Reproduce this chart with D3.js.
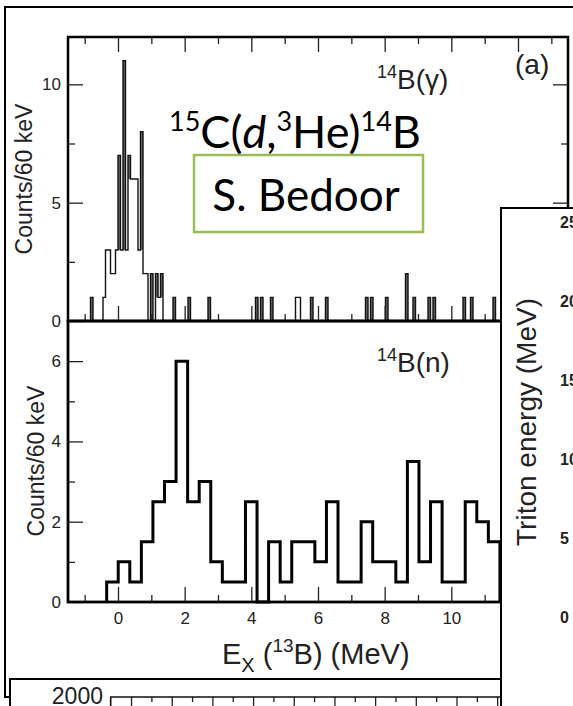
<!DOCTYPE html>
<html>
<head>
<meta charset="utf-8">
<script src="https://cdn.jsdelivr.net/npm/d3@7"></script>
<style>
  body { margin: 0; background: #fff; }
  svg { display: block; }
  .plot text { font-family: "Liberation Sans", Arial, sans-serif; fill: #222; }
  .slide text { font-family: Lato, "Open Sans", sans-serif; fill: #000; }
</style>
</head>
<body>
<svg id="fig" width="573" height="706"></svg>
<script>
// 14B(gamma) gated spectrum: left edge of each bin (MeV) and its counts
const GAMMA_BIN = 0.075;
const GAMMA_E = [-0.825, -0.45, -0.375, -0.3, -0.225, -0.15, -0.075, 0, 0.075, 0.15, 0.225, 0.3,
                 0.375, 0.45, 0.525, 0.6, 0.675, 0.75, 0.825, 0.9, 0.975, 1.05, 1.125, 1.2, 1.275,
                 1.65, 2.1, 2.7, 4.125, 4.2, 4.275, 4.575, 5.325, 5.4, 5.775, 6.225, 7.425, 7.5,
                 7.575, 8.025, 8.625, 8.85, 9.3, 9.375, 9.45, 10.35, 10.575, 11.25];
const GAMMA_COUNTS = [1, 1, 3, 3, 2, 2, 3, 7, 3, 11, 3, 7,
                      6, 6, 6, 3, 8, 2, 2, 0, 2, 0, 2, 1, 2,
                      1, 1, 1, 1, 0, 1, 1, 1, 1, 1, 1, 1, 0,
                      1, 1, 2, 1, 1, 0, 1, 1, 1, 1];

// 14B(n) gated spectrum
const N_START = -0.34;
const N_BIN = 0.347;
const N_COUNTS = [0.5, 1, 0.5, 1.5, 2.5, 3, 6, 2.5, 3, 1, 0.5, 0.5, 2.5, 0, 1.5, 0.5, 1.5,
                  1.5, 1, 2.5, 0.5, 0.5, 2, 1, 1, 0.5, 3.5, 1, 2.5, 0.5, 0.5, 2.5, 2, 1.5];

// tick values
const X_MAJOR = [0, 2, 4, 6, 8, 10, 12];
const X_MINOR = [-1, 1, 3, 5, 7, 9, 11, 13];
const G_MAJOR = [0, 5, 10];
const G_MINOR = [2.5, 7.5];
const N_MAJOR = [0, 2, 4, 6];
const N_MINOR = [1, 3, 5];
const TRITON_TICKS = [0, 5, 10, 15, 20, 25];
const LOWER_Y_TICKS = [2000];
const LOWER_X_TICKS = d3.range(1, 20);

const FONT = "'Liberation Sans', Arial, sans-serif";
const fmt = d3.format("d");
const svg = d3.select("#fig");

// frame of the slide behind everything
svg.append("rect")
    .attr("x", 5).attr("y", 7).attr("width", 640).attr("height", 690)
    .attr("fill", "none").attr("stroke", "#000").attr("stroke-width", 2);

const plot = svg.append("g").attr("class", "plot");

const X = d3.scaleLinear().domain([-1.5, 13.5]).range([68, 568]);
const YG = d3.scaleLinear().domain([0, 12]).range([321, 37]);
const YN = d3.scaleLinear().domain([0, 7]).range([602, 321]);

// group bins into contiguous runs
function toRuns(edges, counts, w) {
    const runs = [];
    let cur = null, end = null;
    edges.forEach((e, i) => {
        if (cur === null || Math.abs(e - end) > 1e-3) {
            if (cur !== null) runs.push(cur);
            cur = [];
        }
        cur.push({e: e, c: counts[i]});
        end = e + w;
    });
    if (cur !== null) runs.push(cur);
    return runs;
}

// step outline points of one run
function stepPoints(run, w) {
    const pts = [[run[0].e, 0]];
    run.forEach(b => { pts.push([b.e, b.c]); pts.push([b.e + w, b.c]); });
    pts.push([run[run.length - 1].e + w, 0]);
    return pts;
}

const lineG = d3.line().x(d => X(d[0])).y(d => YG(d[1]));
const lineN = d3.line().x(d => X(d[0])).y(d => YN(d[1]));

const gRuns = toRuns(GAMMA_E, GAMMA_COUNTS, GAMMA_BIN);

// narrow spikes look shaded in the original print
const spikes = [];
gRuns.forEach(run => run.forEach((b, i) => {
    const l = i > 0 ? run[i - 1].c : 0;
    const r = i < run.length - 1 ? run[i + 1].c : 0;
    if (b.c > l && b.c > r) spikes.push({e: b.e, lo: Math.max(l, r), hi: b.c});
}));
plot.selectAll(".spike").data(spikes).enter().append("rect")
    .attr("x", d => X(d.e)).attr("width", X(GAMMA_BIN) - X(0))
    .attr("y", d => YG(d.hi)).attr("height", d => YG(d.lo) - YG(d.hi))
    .attr("fill", "#6a6a6a");

plot.selectAll(".gstep")
    .data(gRuns.map(r => stepPoints(r, GAMMA_BIN)))
    .enter().append("path")
    .attr("d", lineG)
    .attr("fill", "none").attr("stroke", "#111").attr("stroke-width", 1.4);

const nEdges = N_COUNTS.map((c, i) => N_START + i * N_BIN);
plot.selectAll(".nstep")
    .data(toRuns(nEdges, N_COUNTS, N_BIN).map(r => stepPoints(r, N_BIN)))
    .enter().append("path")
    .attr("d", lineN)
    .attr("fill", "none").attr("stroke", "#000").attr("stroke-width", 3)
    .attr("stroke-linejoin", "miter");

function ticks(g) { g.select(".domain").remove(); g.selectAll("line").attr("stroke", "#222").attr("stroke-width", 1.3); }

// inward ticks
function xTicks(y, dir) {
    const ax = dir === "up" ? d3.axisTop : d3.axisBottom;
    plot.append("g").attr("transform", "translate(0," + y + ")")
        .call(ax(X).tickValues(X_MAJOR).tickSize(15).tickFormat("")).call(ticks);
    plot.append("g").attr("transform", "translate(0," + y + ")")
        .call(ax(X).tickValues(X_MINOR).tickSize(7).tickFormat("")).call(ticks);
}
xTicks(321, "up");
xTicks(37, "down");
xTicks(602, "up");

function yTicks(scale, x, major, minor, dir) {
    const ax = dir === "right" ? d3.axisRight : d3.axisLeft;
    plot.append("g").attr("transform", "translate(" + x + ",0)")
        .call(ax(scale).tickValues(major).tickSize(15).tickFormat("")).call(ticks);
    plot.append("g").attr("transform", "translate(" + x + ",0)")
        .call(ax(scale).tickValues(minor).tickSize(7).tickFormat("")).call(ticks);
}
yTicks(YG, 68, G_MAJOR, G_MINOR, "right");
yTicks(YG, 568, G_MAJOR, G_MINOR, "left");
yTicks(YN, 68, N_MAJOR, N_MINOR, "right");

// tick labels
function labels(g) {
    g.select(".domain").remove();
    g.selectAll("text").attr("font-size", 17).attr("font-family", FONT).attr("fill", "#222");
}
plot.append("g").attr("transform", "translate(68,0)")
    .call(d3.axisLeft(YG).tickValues(G_MAJOR).tickFormat(fmt).tickSize(0).tickPadding(7)).call(labels);
plot.append("g").attr("transform", "translate(68,0)")
    .call(d3.axisLeft(YN).tickValues(N_MAJOR).tickFormat(fmt).tickSize(0).tickPadding(7)).call(labels);
plot.append("g").attr("transform", "translate(0,602)")
    .call(d3.axisBottom(X).tickValues(X_MAJOR).tickFormat(fmt).tickSize(0).tickPadding(10)).call(labels);

// panel frames
plot.append("rect").attr("x", 68).attr("y", 37).attr("width", 500).attr("height", 284)
    .attr("fill", "none").attr("stroke", "#000").attr("stroke-width", 2.5);
plot.append("rect").attr("x", 68).attr("y", 321).attr("width", 500).attr("height", 281)
    .attr("fill", "none").attr("stroke", "#000").attr("stroke-width", 2.8);

// axis titles
plot.append("text").attr("transform", "translate(24,179) rotate(-90)")
    .attr("text-anchor", "middle").attr("dy", "0.35em").attr("font-size", 23).text("Counts/60 keV");
plot.append("text").attr("transform", "translate(36,461) rotate(-90)")
    .attr("text-anchor", "middle").attr("dy", "0.35em").attr("font-size", 23).text("Counts/60 keV");

const xt = plot.append("text").attr("x", 222).attr("y", 664).attr("font-size", 29);
xt.append("tspan").text("E");
xt.append("tspan").attr("font-size", 20).attr("dy", 8).text("X");
xt.append("tspan").attr("dy", -8).text(" (");
xt.append("tspan").attr("font-size", 19).attr("dy", -12).text("13");
xt.append("tspan").attr("dy", 12).text("B) (MeV)");

function nucl(x, y, rest) {
    const t = plot.append("text").attr("x", x).attr("y", y).attr("font-size", 28);
    t.append("tspan").attr("font-size", 18).attr("dy", -11).text("14");
    t.append("tspan").attr("dy", 11).text(rest);
}
nucl(377, 89, "B(γ)");
nucl(377, 372, "B(n)");
plot.append("text").attr("x", 515).attr("y", 74).attr("font-size", 28).text("(a)");

// slide annotations
const slide = svg.append("g").attr("class", "slide");
const title = slide.append("text").attr("x", 169).attr("y", 148).attr("font-size", 45);
title.append("tspan").attr("font-size", 27).attr("dy", -17).text("15");
title.append("tspan").attr("dy", 17).text("C(");
title.append("tspan").attr("font-style", "italic").text("d");
title.append("tspan").text(",");
title.append("tspan").attr("font-size", 27).attr("dy", -17).text("3");
title.append("tspan").attr("dy", 17).text("He)");
title.append("tspan").attr("font-size", 27).attr("dy", -17).text("14");
title.append("tspan").attr("dy", 17).text("B");

slide.append("rect").attr("x", 194).attr("y", 155).attr("width", 229).attr("height", 77)
    .attr("fill", "#fff").attr("stroke", "#9bbb59").attr("stroke-width", 2.5);
slide.append("text").attr("x", 306).attr("y", 211).attr("text-anchor", "middle")
    .attr("font-size", 44).text("S. Bedoor");

// lower figure peeking in at the bottom
const lower = svg.append("g").attr("class", "plot");
lower.append("rect").attr("x", 10).attr("y", 679).attr("width", 600).attr("height", 60)
    .attr("fill", "#fff").attr("stroke", "#000").attr("stroke-width", 2);
const XL = d3.scaleLinear().domain([0, 20]).range([110.7, 517.5]);
const YL = d3.scaleLinear().domain([0, 2000]).range([900, 697]);
lower.append("g").attr("transform", "translate(0,697)")
    .call(d3.axisBottom(XL).tickValues(LOWER_X_TICKS.filter(v => v % 2 === 1)).tickSize(9).tickFormat(""))
    .call(ticks);
lower.append("g").attr("transform", "translate(0,697)")
    .call(d3.axisBottom(XL).tickValues(LOWER_X_TICKS.filter(v => v % 2 === 0)).tickSize(5).tickFormat(""))
    .call(ticks);
lower.append("path").attr("d", d3.line()([[XL(0), 720], [XL(0), YL(2000)], [600, YL(2000)]]))
    .attr("fill", "none").attr("stroke", "#111").attr("stroke-width", 1.6);
lower.append("g").attr("transform", "translate(103,0)")
    .call(d3.axisLeft(YL).tickValues(LOWER_Y_TICKS).tickFormat(fmt).tickSize(0).tickPadding(0))
    .call(g => {
        g.select(".domain").remove();
        g.selectAll("text").attr("font-size", 23).attr("font-family", FONT).attr("fill", "#222").attr("dy", "0.3em");
    });

// triton energy panel on the right, on top
const right = svg.append("g").attr("class", "plot");
right.append("rect").attr("x", 501).attr("y", 208).attr("width", 120).attr("height", 600)
    .attr("fill", "#fff").attr("stroke", "#000").attr("stroke-width", 2);
const YT = d3.scaleLinear().domain([0, 25]).range([617, 222]);
right.selectAll(".tl").data(TRITON_TICKS).enter().append("text")
    .attr("x", 560).attr("y", d => YT(d)).attr("dy", "0.35em")
    .attr("font-size", 16).attr("font-weight", "bold").attr("fill", "#333").text(d => d);
right.append("text").attr("transform", "translate(526,422) rotate(-90)")
    .attr("text-anchor", "middle").attr("dy", "0.35em").attr("font-size", 28).text("Triton energy (MeV)");
</script>
</body>
</html>
